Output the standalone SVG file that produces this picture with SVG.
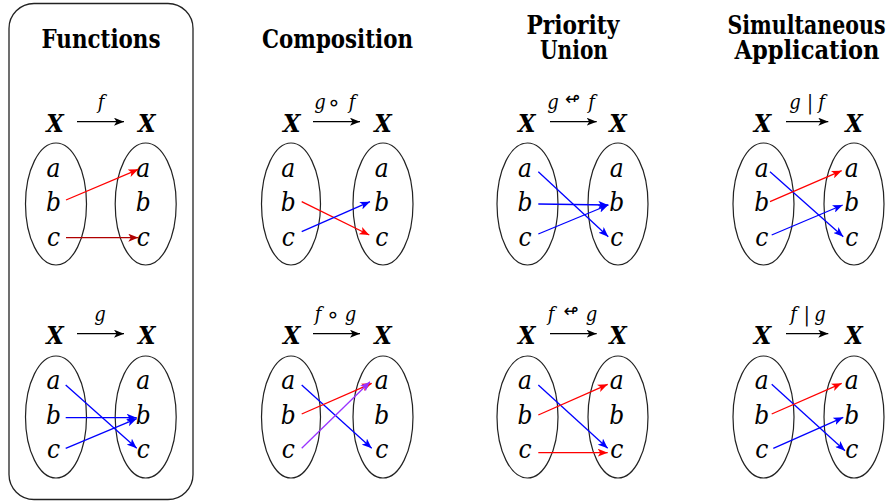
<svg xmlns="http://www.w3.org/2000/svg" width="892" height="502" viewBox="0 0 892 502">
<style>
text{font-family:'DejaVu Serif Condensed','DejaVu Serif',serif;font-stretch:condensed;fill:#000;text-anchor:middle}
.title{font-weight:bold;font-size:26px}
.X{font-weight:bold;font-style:italic;font-size:25px}
.el{font-style:italic;font-size:26px}
.lab{font-style:italic;font-size:20px}
.op{font-family:'DejaVu Sans',sans-serif;font-stretch:normal;font-size:22px}
.sym{font-family:'DejaVu Sans',sans-serif;font-stretch:normal;font-size:18px}
.bar{font-size:20px}
.set{fill:none;stroke:#222;stroke-width:1.2}
.frame{fill:none;stroke:#222;stroke-width:1.3}
.k{stroke:#000;stroke-width:1.3;fill:none;marker-end:url(#mk)}
.r{stroke:#f00;stroke-width:1.3;fill:none;marker-end:url(#mr)}
.dr{stroke:#b00000;stroke-width:1.3;fill:none;marker-end:url(#mdr)}
.b{stroke:#00f;stroke-width:1.3;fill:none;marker-end:url(#mb)}
.p{stroke:#9933ff;stroke-width:1.3;fill:none;marker-end:url(#mp)}
</style>
<defs>
<marker id="mk" viewBox="0 0 10 8" refX="10" refY="4" markerWidth="10" markerHeight="8" markerUnits="userSpaceOnUse" orient="auto"><path d="M0,0 L10,4 L0,8 L2.5,4 z" fill="#000"/></marker>
<marker id="mr" viewBox="0 0 10 8" refX="10" refY="4" markerWidth="10" markerHeight="8" markerUnits="userSpaceOnUse" orient="auto"><path d="M0,0 L10,4 L0,8 L2.5,4 z" fill="#f00"/></marker>
<marker id="mdr" viewBox="0 0 10 8" refX="10" refY="4" markerWidth="10" markerHeight="8" markerUnits="userSpaceOnUse" orient="auto"><path d="M0,0 L10,4 L0,8 L2.5,4 z" fill="#b00000"/></marker>
<marker id="mb" viewBox="0 0 10 8" refX="10" refY="4" markerWidth="10" markerHeight="8" markerUnits="userSpaceOnUse" orient="auto"><path d="M0,0 L10,4 L0,8 L2.5,4 z" fill="#00f"/></marker>
<marker id="mp" viewBox="0 0 10 8" refX="10" refY="4" markerWidth="10" markerHeight="8" markerUnits="userSpaceOnUse" orient="auto"><path d="M0,0 L10,4 L0,8 L2.5,4 z" fill="#9933ff"/></marker>
</defs>
<rect width="892" height="502" fill="#fff"/>

<g id="titles">
<text class="title" x="101" y="48" textLength="119" lengthAdjust="spacingAndGlyphs">Functions</text>
<text class="title" x="337.5" y="48" textLength="151" lengthAdjust="spacingAndGlyphs">Composition</text>
<text class="title" x="573" y="34" textLength="93" lengthAdjust="spacingAndGlyphs">Priority</text>
<text class="title" x="574" y="59" textLength="68" lengthAdjust="spacingAndGlyphs">Union</text>
<text class="title" x="806.5" y="34" textLength="158" lengthAdjust="spacingAndGlyphs">Simultaneous</text>
<text class="title" x="807" y="59" textLength="145" lengthAdjust="spacingAndGlyphs">Application</text>
</g>

<g id="functions-frame"><rect class="frame" x="9" y="3.5" width="184" height="496" rx="25" ry="25"/></g>

<g id="fn-f">
<text class="X" x="55" y="132">X</text><text class="X" x="146.7" y="132">X</text>
<text class="lab" x="101" y="109">f</text>
<ellipse class="set" cx="56" cy="204" rx="30.5" ry="61"/><ellipse class="set" cx="145.7" cy="204" rx="30.5" ry="61"/>
<text class="el" x="53.5" y="177">a</text><text class="el" x="53.5" y="211">b</text><text class="el" x="53.5" y="246">c</text>
<text class="el" x="143.3" y="177">a</text><text class="el" x="143.3" y="211">b</text><text class="el" x="143.3" y="246">c</text>
</g>
<g id="fn-g">
<text class="X" x="55" y="344">X</text><text class="X" x="146.7" y="344">X</text>
<text class="lab" x="100" y="321">g</text>
<ellipse class="set" cx="56" cy="417" rx="30.5" ry="61"/><ellipse class="set" cx="145.7" cy="417" rx="30.5" ry="61"/>
<text class="el" x="53.5" y="389">a</text><text class="el" x="53.5" y="424">b</text><text class="el" x="53.5" y="458">c</text>
<text class="el" x="143.3" y="389">a</text><text class="el" x="143.3" y="424">b</text><text class="el" x="143.3" y="458">c</text>
</g>

<g id="comp-gf">
<text class="X" x="291.7" y="132">X</text><text class="X" x="383" y="132">X</text>
<text class="lab" x="320" y="109">g</text><text class="op" x="334" y="110">∘</text><text class="lab" x="352" y="109">f</text>
<ellipse class="set" cx="291" cy="204" rx="29.5" ry="61"/><ellipse class="set" cx="383" cy="204" rx="30" ry="61"/>
<text class="el" x="288.3" y="177">a</text><text class="el" x="288.3" y="211">b</text><text class="el" x="288.3" y="246">c</text>
<text class="el" x="381.7" y="177">a</text><text class="el" x="381.7" y="211">b</text><text class="el" x="381.7" y="246">c</text>
</g>
<g id="comp-fg">
<text class="X" x="291.7" y="344">X</text><text class="X" x="383" y="344">X</text>
<text class="lab" x="318" y="321">f</text><text class="op" x="333" y="322">∘</text><text class="lab" x="350.5" y="321">g</text>
<ellipse class="set" cx="291" cy="417" rx="29.5" ry="61"/><ellipse class="set" cx="383" cy="417" rx="30" ry="61"/>
<text class="el" x="288.3" y="389">a</text><text class="el" x="288.3" y="424">b</text><text class="el" x="288.3" y="458">c</text>
<text class="el" x="381.7" y="389">a</text><text class="el" x="381.7" y="424">b</text><text class="el" x="381.7" y="458">c</text>
</g>

<g id="pu-gf">
<text class="X" x="526.7" y="132">X</text><text class="X" x="618" y="132">X</text>
<text class="lab" x="553" y="109">g</text><text class="sym" x="572.5" y="105">↫</text><text class="lab" x="591.5" y="109">f</text>
<ellipse class="set" cx="527.5" cy="204" rx="30.5" ry="61"/><ellipse class="set" cx="618" cy="204" rx="30" ry="61"/>
<text class="el" x="525" y="177">a</text><text class="el" x="525" y="211">b</text><text class="el" x="525" y="246">c</text>
<text class="el" x="616.7" y="177">a</text><text class="el" x="616.7" y="211">b</text><text class="el" x="616.7" y="246">c</text>
</g>
<g id="pu-fg">
<text class="X" x="526.7" y="344">X</text><text class="X" x="618" y="344">X</text>
<text class="lab" x="551" y="321">f</text><text class="sym" x="571" y="317">↫</text><text class="lab" x="591.5" y="321">g</text>
<ellipse class="set" cx="527.5" cy="417" rx="30.5" ry="61"/><ellipse class="set" cx="618" cy="417" rx="30" ry="61"/>
<text class="el" x="525" y="389">a</text><text class="el" x="525" y="424">b</text><text class="el" x="525" y="458">c</text>
<text class="el" x="616.7" y="389">a</text><text class="el" x="616.7" y="424">b</text><text class="el" x="616.7" y="458">c</text>
</g>

<g id="sa-gf">
<text class="X" x="762.5" y="132">X</text><text class="X" x="854" y="132">X</text>
<text class="lab" x="795" y="109">g</text><text class="bar" x="810" y="109">|</text><text class="lab" x="821.5" y="109">f</text>
<ellipse class="set" cx="763.5" cy="204" rx="30.5" ry="61"/><ellipse class="set" cx="854" cy="204" rx="30" ry="61"/>
<text class="el" x="761.7" y="177">a</text><text class="el" x="761.7" y="211">b</text><text class="el" x="761.7" y="246">c</text>
<text class="el" x="851.7" y="177">a</text><text class="el" x="851.7" y="211">b</text><text class="el" x="851.7" y="246">c</text>
</g>
<g id="sa-fg">
<text class="X" x="762.5" y="344">X</text><text class="X" x="854" y="344">X</text>
<text class="lab" x="793.5" y="321">f</text><text class="bar" x="806.7" y="321">|</text><text class="lab" x="820" y="321">g</text>
<ellipse class="set" cx="763.5" cy="417" rx="30.5" ry="61"/><ellipse class="set" cx="854" cy="417" rx="30" ry="61"/>
<text class="el" x="761.7" y="389">a</text><text class="el" x="761.7" y="424">b</text><text class="el" x="761.7" y="458">c</text>
<text class="el" x="851.7" y="389">a</text><text class="el" x="851.7" y="424">b</text><text class="el" x="851.7" y="458">c</text>
</g>

<g id="connectors">
<line class="k" x1="77" y1="121.7" x2="124" y2="121.7"/>
<line class="k" x1="77" y1="333.7" x2="124" y2="333.7"/>
<line class="k" x1="313" y1="121.7" x2="360" y2="121.7"/>
<line class="k" x1="313" y1="333.7" x2="360" y2="333.7"/>
<line class="k" x1="550" y1="121.7" x2="596.7" y2="121.7"/>
<line class="k" x1="550" y1="333.7" x2="596.7" y2="333.7"/>
<line class="k" x1="786" y1="121.7" x2="828.3" y2="121.7"/>
<line class="k" x1="786" y1="333.7" x2="828.3" y2="333.7"/>
<line class="r" x1="66" y1="200" x2="138.3" y2="169.3"/>
<line class="dr" x1="66" y1="237.7" x2="138.3" y2="237.7"/>
<line class="b" x1="65.7" y1="385" x2="136.7" y2="448.3"/>
<line class="b" x1="65.7" y1="417.7" x2="136.7" y2="417.7"/>
<line class="b" x1="65.7" y1="448.3" x2="136.7" y2="418.7"/>
<line class="r" x1="301.7" y1="201.7" x2="369.3" y2="235"/>
<line class="b" x1="301.7" y1="231.7" x2="370" y2="201.7"/>
<line class="b" x1="301.7" y1="385" x2="371.7" y2="448.3"/>
<line class="r" x1="301.7" y1="414" x2="371.7" y2="383.3"/>
<line class="p" x1="301.7" y1="448.3" x2="370" y2="381.7"/>
<line class="b" x1="538.3" y1="171.7" x2="608.3" y2="236.7"/>
<line class="b" x1="538.3" y1="204" x2="608.3" y2="205"/>
<line class="b" x1="538.3" y1="234" x2="608.3" y2="205"/>
<line class="b" x1="538.3" y1="385" x2="607.7" y2="448.3"/>
<line class="r" x1="538.3" y1="415" x2="607.7" y2="384.3"/>
<line class="r" x1="538.3" y1="452.7" x2="607.7" y2="452.7"/>
<line class="b" x1="770" y1="171.7" x2="843.3" y2="236.7"/>
<line class="r" x1="770" y1="201.7" x2="841.7" y2="170.7"/>
<line class="b" x1="771.7" y1="235" x2="842.7" y2="205"/>
<line class="b" x1="771.7" y1="384.3" x2="845" y2="450.7"/>
<line class="r" x1="771.7" y1="414" x2="841.7" y2="383.3"/>
<line class="b" x1="773.3" y1="448.3" x2="843.3" y2="417.3"/>
</g>
</svg>
